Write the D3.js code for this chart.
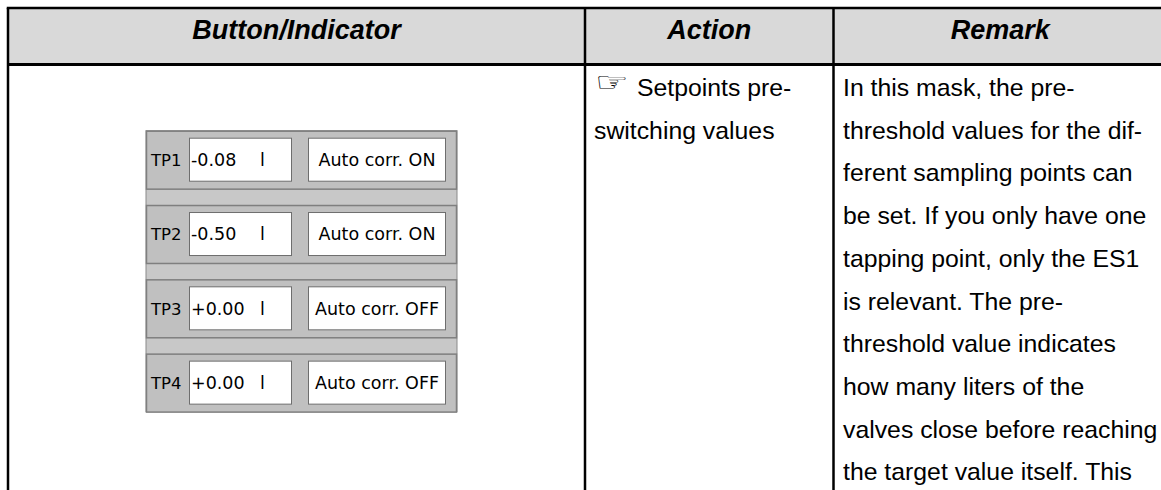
<!DOCTYPE html>
<html><head><meta charset="utf-8">
<script src="https://cdn.jsdelivr.net/npm/d3@7"></script>
<style>html,body{margin:0;padding:0;background:#fff;overflow:hidden}</style>
</head><body><svg id="c" width="1161" height="490"></svg>
<script>
// ---- data ----
const headers = ["Button/Indicator", "Action", "Remark"];
const tapPoints = ["TP1", "TP2", "TP3", "TP4"];
const preValues = ["-0.08", "-0.50", "+0.00", "+0.00"];
const units = ["l", "l", "l", "l"];
const corrStatus = ["Auto corr. ON", "Auto corr. ON", "Auto corr. OFF", "Auto corr. OFF"];
const actionLines = ["Setpoints pre-", "switching values"];
const remarkLines = [
  "In this mask, the pre-",
  "threshold values for the dif-",
  "ferent sampling points can",
  "be set. If you only have one",
  "tapping point, only the ES1",
  "is relevant. The pre-",
  "threshold value indicates",
  "how many liters of the",
  "valves close before reaching",
  "the target value itself. This"
];

// ---- layout ----
const svg = d3.select("#c");
const colEdges = [8, 585, 833.5, 1167];
const tableTop = 8, headBottom = 64.5;
const col = d3.scaleOrdinal().domain(headers).range(d3.range(3));

// header fill
svg.append("rect").attr("x", colEdges[0]).attr("y", tableTop).attr("width", colEdges[3] - colEdges[0])
  .attr("height", headBottom - tableTop).attr("fill", "#d9d9d9");

// header texts
svg.selectAll("text.h").data(headers).join("text").attr("class", "h")
  .attr("x", d => (colEdges[col(d)] + colEdges[col(d) + 1]) / 2)
  .attr("y", 38.5).attr("text-anchor", "middle")
  .attr("font-family", "Liberation Sans, Arial, sans-serif").attr("font-weight", "bold")
  .attr("font-style", "italic").attr("font-size", 27).attr("fill", "#000").text(d => d);

// body line scale
const lineH = 42.7, firstBase = 96;
const ly = i => firstBase + i * lineH;
const bodyFont = "Liberation Sans, Arial, sans-serif", bodySize = 24.8;

// action
svg.append("text").attr("transform", `translate(595,${ly(0) - 5}) scale(1.45,1)`)
  .attr("font-family", "DejaVu Sans").attr("font-size", 26).attr("fill", "#000").text("\u261E");
svg.selectAll("text.a").data(actionLines).join("text").attr("class", "a")
  .attr("x", (d, i) => i === 0 ? 637 : 594).attr("y", (d, i) => ly(i))
  .attr("font-family", bodyFont).attr("font-size", bodySize).attr("fill", "#000").text(d => d);

// remark
svg.selectAll("text.r").data(remarkLines).join("text").attr("class", "r")
  .attr("x", 843).attr("y", (d, i) => ly(i))
  .attr("font-family", bodyFont).attr("font-size", bodySize).attr("fill", "#000").text(d => d);

// ---- HMI panel ----
const py = d3.scaleBand().domain(tapPoints).range([130.7, 411.6]).paddingInner(0.22);
const px0 = 146, px1 = 457;
svg.append("rect").attr("x", px0).attr("y", py.range()[0]).attr("width", px1 - px0)
  .attr("height", py.range()[1] - py.range()[0]).attr("fill", "#c8c8c8")
  .attr("stroke", "#8a8a8a").attr("stroke-width", 1);
const g = svg.selectAll("g.tp").data(tapPoints).join("g").attr("class", "tp")
  .attr("transform", d => `translate(0,${py(d)})`);
g.append("rect").attr("x", px0 + 0.5).attr("y", 0.5).attr("width", px1 - px0 - 1).attr("height", py.bandwidth())
  .attr("fill", "#c0c0c0").attr("stroke", "#7f7f7f").attr("stroke-width", 1.5);
g.append("text").attr("x", 151).attr("y", py.bandwidth() / 2 + 6.5).attr("font-family", "DejaVu Sans")
  .attr("font-size", 16.5).attr("fill", "#000").text(d => d);
g.append("rect").attr("x", 189.5).attr("y", 7.5).attr("width", 102).attr("height", 43)
  .attr("fill", "#fff").attr("stroke", "#6e6e6e").attr("stroke-width", 1);
g.append("text").attr("x", 191).attr("y", py.bandwidth() / 2 + 6.5).attr("font-family", "DejaVu Sans")
  .attr("font-size", 17.5).attr("fill", "#000").text((d, i) => preValues[i]);
g.append("text").attr("x", 260).attr("y", py.bandwidth() / 2 + 6.5).attr("font-family", "DejaVu Sans")
  .attr("font-size", 17.5).attr("fill", "#000").text((d, i) => units[i]);
g.append("rect").attr("x", 308.5).attr("y", 7.5).attr("width", 137).attr("height", 43)
  .attr("fill", "#fff").attr("stroke", "#6e6e6e").attr("stroke-width", 1);
g.append("text").attr("x", 377).attr("y", py.bandwidth() / 2 + 6.5).attr("text-anchor", "middle")
  .attr("font-family", "DejaVu Sans").attr("font-size", 17.5).attr("fill", "#000").text((d, i) => corrStatus[i]);

// ---- table rules ----
const rule = (x1, y1, x2, y2, w) => svg.append("line").attr("x1", x1).attr("y1", y1).attr("x2", x2).attr("y2", y2)
  .attr("stroke", "#000").attr("stroke-width", w);
rule(colEdges[0] - 1.25, tableTop, colEdges[3], tableTop, 2.5);
rule(colEdges[0], tableTop, colEdges[0], 490, 2.5);
rule(colEdges[0], headBottom, colEdges[3], headBottom, 3);
rule(colEdges[1], tableTop, colEdges[1], 490, 2.5);
rule(colEdges[2], tableTop, colEdges[2], 490, 2.5);
</script></body></html>
